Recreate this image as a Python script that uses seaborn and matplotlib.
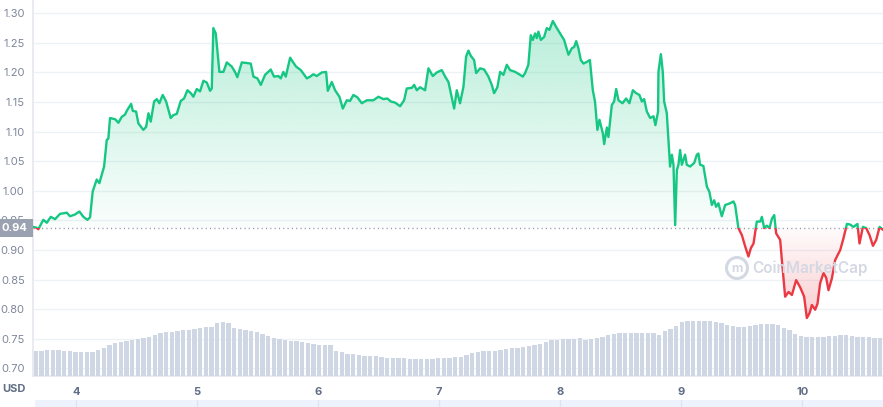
import numpy as np
import matplotlib
matplotlib.use("Agg")
import matplotlib.pyplot as plt
import matplotlib.transforms as mtransforms
from matplotlib.patches import Rectangle, Circle
from matplotlib.path import Path
import seaborn as sns

# -----------------------------------
# Data
# -----------------------------------
price_time = [
    3.647, 3.672, 3.691, 3.732, 3.761, 3.794, 3.829, 3.870, 3.926, 3.953,
    3.994, 4.030, 4.063, 4.096, 4.118, 4.140, 4.173, 4.195, 4.234, 4.256,
    4.269, 4.283, 4.325, 4.352, 4.380, 4.407, 4.421, 4.457, 4.471, 4.498,
    4.517, 4.558, 4.581, 4.600, 4.619, 4.647, 4.669, 4.690, 4.718, 4.746,
    4.765, 4.784, 4.806, 4.834, 4.867, 4.894, 4.922, 4.950, 4.971, 4.999,
    5.026, 5.054, 5.082, 5.109, 5.123, 5.136, 5.156, 5.186, 5.219, 5.247,
    5.288, 5.315, 5.334, 5.371, 5.412, 5.445, 5.467, 5.500, 5.528, 5.563,
    5.610, 5.637, 5.673, 5.693, 5.714, 5.734, 5.770, 5.792, 5.819, 5.858,
    5.908, 5.935, 5.962, 5.990, 6.031, 6.067, 6.081, 6.114, 6.141, 6.177,
    6.205, 6.238, 6.265, 6.292, 6.325, 6.362, 6.403, 6.457, 6.499, 6.540,
    6.573, 6.601, 6.637, 6.678, 6.711, 6.733, 6.775, 6.794, 6.816, 6.843,
    6.884, 6.912, 6.948, 6.981, 7.022, 7.050, 7.077, 7.097, 7.124, 7.146,
    7.173, 7.201, 7.223, 7.242, 7.262, 7.289, 7.306, 7.339, 7.372, 7.407,
    7.435, 7.454, 7.481, 7.504, 7.531, 7.559, 7.586, 7.628, 7.669, 7.691,
    7.710, 7.737, 7.757, 7.774, 7.793, 7.807, 7.820, 7.840, 7.867, 7.889,
    7.911, 7.939, 7.972, 7.999, 8.032, 8.068, 8.096, 8.115, 8.132, 8.150,
    8.170, 8.192, 8.220, 8.245, 8.269, 8.287, 8.307, 8.324, 8.352, 8.363,
    8.385, 8.398, 8.426, 8.445, 8.462, 8.481, 8.514, 8.544, 8.571, 8.600,
    8.627, 8.654, 8.674, 8.693, 8.715, 8.743, 8.770, 8.786, 8.808, 8.811,
    8.831, 8.847, 8.858, 8.880, 8.907, 8.922, 8.935, 8.949, 8.963, 8.976,
    8.990, 9.004, 9.031, 9.045, 9.072, 9.106, 9.128, 9.141, 9.155, 9.182,
    9.211, 9.232, 9.252, 9.271, 9.287, 9.306, 9.334, 9.362, 9.403, 9.430,
    9.444, 9.471, 9.500, 9.527, 9.554, 9.574, 9.596, 9.623, 9.651, 9.665,
    9.684, 9.706, 9.728, 9.748, 9.767, 9.783, 9.816, 9.830, 9.857, 9.885,
    9.913, 9.948, 9.981, 10.014, 10.036, 10.058, 10.078, 10.105, 10.124, 10.146,
    10.174, 10.196, 10.215, 10.243, 10.270, 10.312, 10.339, 10.367, 10.394, 10.421,
    10.454, 10.471, 10.499, 10.526, 10.554, 10.582, 10.609, 10.637, 10.665,
]
price = [
    0.939, 0.938, 0.935, 0.951, 0.946, 0.956, 0.952, 0.961, 0.963, 0.957,
    0.960, 0.965, 0.956, 0.951, 0.955, 0.999, 1.019, 1.013, 1.041, 1.086,
    1.088, 1.123, 1.121, 1.115, 1.125, 1.129, 1.135, 1.147, 1.135, 1.134,
    1.114, 1.103, 1.108, 1.131, 1.117, 1.151, 1.155, 1.148, 1.162, 1.151,
    1.137, 1.123, 1.128, 1.130, 1.152, 1.156, 1.170, 1.165, 1.159, 1.172,
    1.168, 1.186, 1.183, 1.169, 1.173, 1.275, 1.266, 1.201, 1.201, 1.217,
    1.210, 1.201, 1.192, 1.217, 1.216, 1.215, 1.193, 1.190, 1.179, 1.196,
    1.205, 1.193, 1.194, 1.190, 1.201, 1.193, 1.225, 1.218, 1.210, 1.204,
    1.190, 1.193, 1.197, 1.194, 1.200, 1.201, 1.169, 1.184, 1.170, 1.159,
    1.139, 1.153, 1.152, 1.162, 1.158, 1.148, 1.153, 1.153, 1.159, 1.155,
    1.156, 1.151, 1.149, 1.143, 1.153, 1.173, 1.174, 1.179, 1.170, 1.175,
    1.170, 1.207, 1.194, 1.200, 1.204, 1.193, 1.184, 1.165, 1.139, 1.170,
    1.148, 1.176, 1.227, 1.237, 1.228, 1.221, 1.199, 1.207, 1.205, 1.193,
    1.179, 1.165, 1.175, 1.201, 1.196, 1.213, 1.204, 1.201, 1.196, 1.193,
    1.199, 1.213, 1.263, 1.255, 1.266, 1.258, 1.269, 1.255, 1.260, 1.275,
    1.272, 1.287, 1.275, 1.266, 1.255, 1.230, 1.241, 1.243, 1.253, 1.241,
    1.221, 1.215, 1.218, 1.221, 1.170, 1.151, 1.103, 1.120, 1.097, 1.079,
    1.107, 1.091, 1.145, 1.151, 1.172, 1.153, 1.148, 1.156, 1.148, 1.170,
    1.165, 1.162, 1.151, 1.155, 1.134, 1.123, 1.126, 1.111, 1.134, 1.201,
    1.231, 1.201, 1.151, 1.131, 1.041, 1.061, 1.044, 0.942, 1.035, 1.044,
    1.069, 1.044, 1.061, 1.044, 1.041, 1.047, 1.061, 1.063, 1.044, 1.042,
    1.007, 0.998, 0.976, 0.984, 0.973, 0.979, 0.957, 0.976, 0.979, 0.982,
    0.976, 0.937, 0.925, 0.906, 0.889, 0.903, 0.911, 0.948, 0.948, 0.956,
    0.937, 0.941, 0.937, 0.953, 0.959, 0.928, 0.917, 0.883, 0.821, 0.829,
    0.824, 0.849, 0.837, 0.821, 0.785, 0.793, 0.807, 0.799, 0.809, 0.844,
    0.861, 0.853, 0.832, 0.852, 0.883, 0.900, 0.920, 0.944, 0.943, 0.939,
    0.944, 0.911, 0.939, 0.937, 0.925, 0.907, 0.917, 0.939, 0.934,
]

# 24h volume bars, in millions USD
volume = [
    50, 50, 52, 52, 52, 50, 50, 48, 48, 48,
    48, 52, 56, 62, 66, 68, 70, 72, 74, 76,
    78, 82, 86, 88, 88, 90, 92, 92, 94, 96,
    98, 98, 106, 108, 106, 96, 94, 92, 90, 88,
    84, 80, 76, 74, 72, 70, 70, 68, 66, 64,
    62, 62, 62, 50, 48, 44, 44, 42, 40, 40,
    40, 38, 36, 36, 36, 36, 34, 34, 34, 34,
    34, 36, 36, 36, 38, 38, 42, 46, 48, 50,
    50, 50, 52, 54, 56, 56, 58, 60, 62, 64,
    68, 72, 72, 74, 74, 74, 76, 72, 74, 76,
    78, 82, 84, 86, 86, 86, 86, 86, 86, 86,
    82, 90, 94, 100, 108, 110, 110, 110, 110, 110,
    108, 106, 102, 100, 98, 98, 100, 102, 104, 104,
    104, 102, 96, 92, 84, 80, 78, 78, 78, 78,
    80, 80, 82, 82, 80, 78, 78, 78, 76, 76,
]

open_price = 0.937
day_ticks = [4, 5, 6, 7, 8, 9, 10]

GREEN = "#16c784"
RED = "#ea3943"
BAR = "#cfd6e4"
GRID = "#eff2f5"

# -----------------------------------
# Setup
# -----------------------------------
sns.set_theme(style="white")
plt.rcParams["font.family"] = ["Inter", "DejaVu Sans"]

W, H = 883, 407
fig = plt.figure(figsize=(W / 100, H / 100), dpi=100)
ax = fig.add_axes([33 / W, 31 / H, 850 / W, 376 / H])

t = np.array(price_time)
p = np.array(price)
x0, x1 = t[0], t[-1]
y0, y1 = 0.687, 1.3225

# -----------------------------------
# Price line, green above open / red below
# -----------------------------------
sns.lineplot(x=t, y=p, ax=ax, color=GREEN, linewidth=1.7, zorder=5)
green_line = ax.lines[-1]
sns.lineplot(x=t, y=p, ax=ax, color=RED, linewidth=1.7, zorder=5)
red_line = ax.lines[-1]
clip_up = Rectangle((x0 - 1, open_price), x1 - x0 + 2, 2, transform=ax.transData)
clip_dn = Rectangle((x0 - 1, open_price - 2), x1 - x0 + 2, 2, transform=ax.transData)
green_line.set_clip_path(clip_up)
red_line.set_clip_path(clip_dn)


def gradient_fill(mask, color, top, bottom, a_top, a_bottom):
    coll = ax.fill_between(t, p, open_price, where=mask, interpolate=True,
                           facecolor="none", edgecolor="none")
    path = Path.make_compound_path(*coll.get_paths())
    rgb = matplotlib.colors.to_rgb(color)
    n = 256
    img = np.zeros((n, 1, 4))
    img[:, :, :3] = rgb
    img[:, 0, 3] = np.linspace(a_top, a_bottom, n)
    im = ax.imshow(img, extent=[x0, x1, bottom, top], aspect="auto",
                   origin="upper", zorder=2, interpolation="bilinear")
    im.set_clip_path(path, ax.transData)


gradient_fill(p >= open_price, GREEN, 1.29, open_price, 0.30, 0.02)
gradient_fill(p <= open_price, RED, open_price, 0.785, 0.02, 0.25)

# dotted open-price line
ax.axhline(open_price, color="#8e96a8", linewidth=1, linestyle=(0, (0.8, 2.3)), zorder=4)

# -----------------------------------
# Axes styling
# -----------------------------------
ax.set_xlim(x0, x1)
ax.set_ylim(y0, y1)
ax.set_yticks(np.round(np.arange(0.70, 1.301, 0.05), 2))
ax.set_yticklabels([f"{v:.2f}" for v in ax.get_yticks()])
ax.set_xticks(day_ticks)
ax.set_xticklabels([str(d) for d in day_ticks])
ax.grid(axis="y", color=GRID, linewidth=1)
ax.grid(axis="x", visible=False)
ax.tick_params(axis="y", length=0, pad=6, labelsize=8, labelcolor="#7d869a")
ax.tick_params(axis="x", length=3, width=1, color="#8a93a6", direction="out",
               pad=5, labelsize=8, labelcolor="#616e85")
for lab in ax.get_xticklabels():
    lab.set_fontweight("bold")
for side in ["top", "right"]:
    ax.spines[side].set_visible(False)
ax.spines["left"].set_color("#e6e9ef")
ax.spines["bottom"].set_color("#e6e9ef")
ax.set_xlabel("")
ax.set_ylabel("")

# -----------------------------------
# Volume bars on a twin axis
# -----------------------------------
ax2 = ax.twinx()
step = (x1 - x0) / len(volume)
bar_time = x0 + step * (np.arange(len(volume)) + 0.5)
sns.barplot(x=bar_time, y=volume, ax=ax2, native_scale=True, color=BAR,
            saturation=1, width=0.82, errorbar=None, linewidth=0)
ax2.set_ylim(0, max(volume) / 0.147)
ax2.set_xlim(x0, x1)
ax2.set_yticks([])
ax2.set_xlabel("")
ax2.set_ylabel("")
for s in ax2.spines.values():
    s.set_visible(False)
ax.set_xticks(day_ticks)
ax.set_xticklabels([str(d) for d in day_ticks])
for lab in ax.get_xticklabels():
    lab.set_fontweight("bold")

# -----------------------------------
# Current price tag, USD label, watermark, navigator strip
# -----------------------------------
blend = mtransforms.blended_transform_factory(fig.transFigure, ax.transData)
tag_h = 18 * (y1 - y0) / 376
fig.patches.append(Rectangle((0, open_price - tag_h / 2), 33 / W, tag_h,
                             transform=blend, facecolor="#9aa1b0",
                             edgecolor="none", zorder=10))
fig.text(2 / W, open_price, f"{open_price:.2f}", transform=blend, color="white",
         fontsize=8, fontweight="bold", va="center", ha="left", zorder=11)

fig.text(2 / W, 1 - 389 / H, "USD", fontsize=8, fontweight="bold",
         color="#616e85", va="center", ha="left")

wm = "#d3d8e3"
fig.patches.append(Circle((737 / 100, (H - 268) / 100), 0.105, fill=False,
                          edgecolor=wm, linewidth=2.2, transform=fig.dpi_scale_trans))
fig.text(752 / W, 1 - 268 / H, "CoinMarketCap", fontsize=11, fontweight="semibold",
         color=wm, va="center", ha="left")
fig.text(737 / W, 1 - 269 / H, "m", fontsize=9, fontweight="bold",
         color=wm, va="center", ha="center")

nav = fig.add_axes([35 / W, 0, (W - 35) / W, 7 / H])
nav.set_facecolor("#eef2fc")
nav.set_xlim(x0 + 2 / 850 * (x1 - x0), x1)
for d in day_ticks:
    nav.axvline(d, color="#dde3f0", linewidth=1)
nav.set_xticks([])
nav.set_yticks([])
for s in nav.spines.values():
    s.set_visible(False)

fig.savefig("out.png", dpi=100)
plt.close(fig)
